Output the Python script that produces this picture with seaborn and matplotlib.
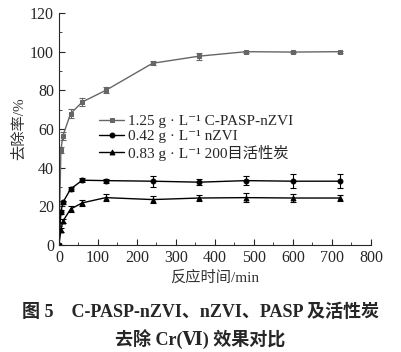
import pandas as pd
import matplotlib
matplotlib.use("Agg")
import matplotlib.pyplot as plt
import seaborn as sns
from matplotlib.ticker import MultipleLocator

t = [0, 5, 10, 30, 60, 120, 240, 360, 480, 600, 720]
cpasp = [0, 49, 56.5, 68, 74, 80, 94, 97.7, 100, 99.8, 100]
cpasp_err = [0, 1.5, 2, 2.5, 2, 1.5, 1, 1.8, 0.5, 0.5, 0.5]
nzvi = [0, 17, 22, 29, 33.5, 33.3, 33, 32.5, 33.3, 33, 33]
nzvi_err = [0, 1.2, 1, 1, 1, 1, 2.8, 1.5, 2.5, 3.5, 3.5]
ac = [0, 7.8, 12.3, 18.6, 21.8, 24.5, 23.5, 24.3, 24.5, 24.3, 24.3]
ac_err = [0, 1, 1, 1.5, 1.5, 2, 1.8, 1.5, 2.5, 2, 1.8]

labels = ["1.25 g · L⁻¹ C-PASP-nZVI",
          "0.42 g · L⁻¹ nZVI",
          "0.83 g · L⁻¹ 200目活性炭"]

sns.set_style("ticks")
plt.rcParams["font.family"] = ["Liberation Serif", "DejaVu Serif", "Noto Sans CJK SC"]

fig = plt.figure(figsize=(4.01, 3.52), dpi=100)
ax = fig.add_axes([0.147, 0.304, 0.778, 0.659])

series = [(cpasp, cpasp_err, "#666666", "s"),
          (nzvi, nzvi_err, "black", "o"),
          (ac, ac_err, "black", "^")]
for (y, err, c, m), lab in zip(series, labels):
    df = pd.DataFrame({"t": t, "y": y})
    sns.lineplot(data=df, x="t", y="y", ax=ax, color=c, marker=m,
                 markersize=3.5, markeredgecolor=c, linewidth=1.0, label=lab)
    ax.errorbar(t, y, yerr=err, fmt="none", ecolor=c, elinewidth=0.8,
                capsize=2.5, capthick=0.8)

ax.set_xlim(0, 800)
ax.set_ylim(0, 120)
ax.xaxis.set_major_locator(MultipleLocator(100))
ax.xaxis.set_minor_locator(MultipleLocator(50))
ax.yaxis.set_major_locator(MultipleLocator(20))
ax.yaxis.set_minor_locator(MultipleLocator(10))
ax.tick_params(which="both", direction="in", labelsize=11.5)
ax.tick_params(which="major", length=4)
ax.tick_params(which="minor", length=2)
sns.despine(ax=ax)
ax.set_xlabel("反应时间/min", fontsize=11, color="#333333", labelpad=3)
ax.set_ylabel("去除率/%", fontsize=11, color="#333333", labelpad=3)

ax.legend(loc="upper left", bbox_to_anchor=(0.11, 0.59), frameon=False,
          fontsize=11, handlelength=1.6, handletextpad=0.3,
          labelspacing=0.1, borderaxespad=0)

fig.text(0.5, 0.114, "图 5    C-PASP-nZVI、nZVI、PASP 及活性炭",
         ha="center", va="center", fontsize=13, fontweight="bold")
fig.text(0.5, 0.034, "去除 Cr(Ⅵ) 效果对比",
         ha="center", va="center", fontsize=13, fontweight="bold")

fig.savefig("out.png", dpi=100)
